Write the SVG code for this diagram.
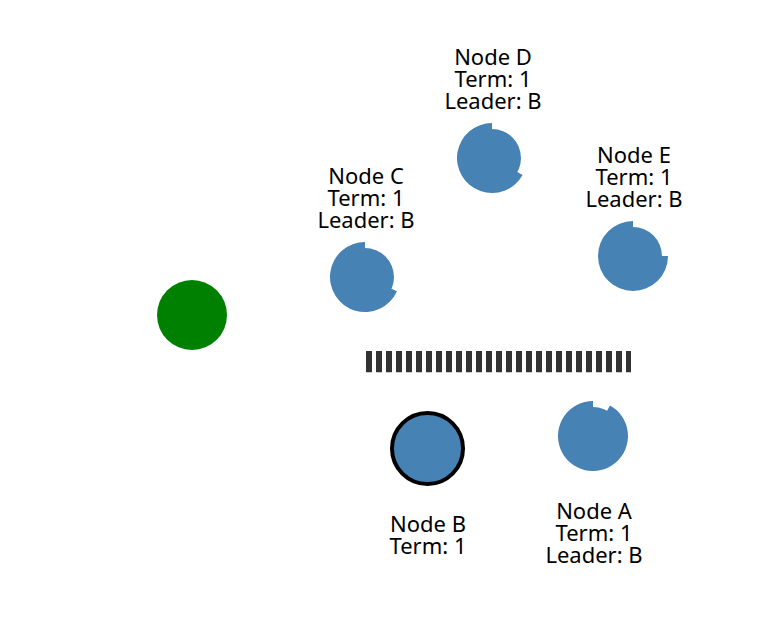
<svg xmlns="http://www.w3.org/2000/svg" width="776" height="628" viewBox="0 0 776 628">
<style>
.node{fill:#4682b4}
.lbl{font-family:"Noto Sans",sans-serif;font-size:22px;fill:#000;text-anchor:middle}
</style>
<rect width="776" height="628" fill="#fff"/>
<g id="partition">
<line x1="366" y1="362.5" x2="631" y2="362.5" stroke="#ccc" stroke-width="21" stroke-dasharray="6 4"/>
<line x1="366" y1="361.5" x2="631" y2="361.5" stroke="#333" stroke-width="21" stroke-dasharray="6 4"/>
</g>
<g id="client">
<circle cx="192" cy="315" r="35" fill="#008000"/>
</g>
<g id="nodeC">
<circle class="node" cx="365" cy="277" r="29"/>
<path class="node" d="M365,277 L396.97,291.23 A35,35 0 1 1 365,242 Z"/>
<text class="lbl" x="366" y="184">Node C</text>
<text class="lbl" x="366" y="206">Term: 1</text>
<text class="lbl" x="366" y="228">Leader: B</text>
</g>
<g id="nodeD">
<circle class="node" cx="492" cy="158" r="29"/>
<path class="node" d="M492,158 L522.61,174.97 A35,35 0 1 1 492,123 Z"/>
<text class="lbl" x="493" y="65">Node D</text>
<text class="lbl" x="493" y="87">Term: 1</text>
<text class="lbl" x="493" y="109">Leader: B</text>
</g>
<g id="nodeE">
<circle class="node" cx="633" cy="256" r="29"/>
<path class="node" d="M633,256 L668,256 A35,35 0 1 1 633,221 Z"/>
<text class="lbl" x="634" y="163">Node E</text>
<text class="lbl" x="634" y="185">Term: 1</text>
<text class="lbl" x="634" y="207">Leader: B</text>
</g>
<g id="nodeA">
<circle class="node" cx="593" cy="436" r="29"/>
<path class="node" d="M593,436 L609.97,405.39 A35,35 0 1 1 593,401 Z"/>
<text class="lbl" x="594" y="519">Node A</text>
<text class="lbl" x="594" y="541">Term: 1</text>
<text class="lbl" x="594" y="563">Leader: B</text>
</g>
<g id="nodeB">
<circle cx="427.5" cy="448.5" r="35.5" fill="#4682b4" stroke="#000" stroke-width="4"/>
<text class="lbl" x="428" y="532">Node B</text>
<text class="lbl" x="428" y="554">Term: 1</text>
</g>
</svg>
